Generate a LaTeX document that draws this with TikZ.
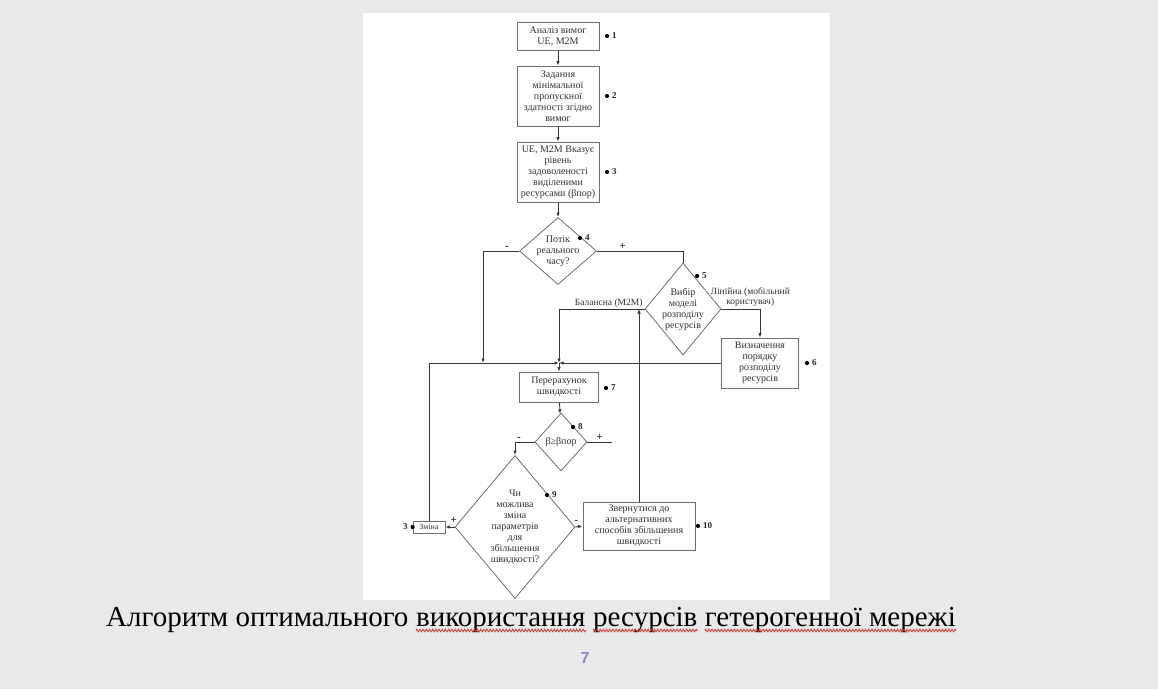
\documentclass[tikz,border=0pt]{standalone}
\usepackage{fontspec}
\setmainfont{Liberation Serif}
\newfontfamily\pagefont{Liberation Sans}
\usetikzlibrary{arrows.meta,positioning,shapes.geometric,decorations.pathmorphing}
\definecolor{AlgLine}{RGB}{55,55,55}
\definecolor{AlgFrame}{RGB}{110,110,110}
\definecolor{AlgText}{RGB}{50,50,50}
\definecolor{AlgPage}{RGB}{233,233,235}
\definecolor{AlgPageNum}{RGB}{138,138,198}
\definecolor{AlgWave}{RGB}{210,55,45}
\tikzset{
  alg/box/.style={
    draw=AlgFrame,
    thick,
    fill=white,
    align=center,
    text=AlgText,
    inner sep=1pt,
    font=\fontsize{10}{11}\selectfont
  },
  alg/dec/.style={
    diamond,
    draw=AlgFrame,
    thick,
    fill=white,
    align=center,
    text=AlgText,
    inner sep=-2pt,
    font=\fontsize{10}{11}\selectfont
  },
  alg/arrow/.style={-{Latex[length=4.5pt,width=3.5pt]}, line width=0.9pt, draw=AlgLine},
  alg/line/.style={line width=0.9pt, draw=AlgLine},
  alg/dot/.style={circle, fill=black, inner sep=0pt, minimum size=4.2pt},
  alg/num/.style={font=\fontsize{9}{9}\selectfont\bfseries, text=black!85, inner sep=0.5pt},
  alg/sign/.style={font=\fontsize{11}{11}\selectfont\bfseries, text=black!85, inner sep=1pt},
  alg/tag/.style={font=\fontsize{9.5}{10.5}\selectfont, text=AlgText, inner sep=1pt, align=center},
  alg/caption/.style={font=\fontsize{29}{32}\selectfont, text=black, inner sep=0pt, anchor=base west},
  alg/wave/.style={draw=AlgWave, line width=0.8pt, decorate, decoration={zigzag, segment length=3.2pt, amplitude=1.3pt}}
}

\begin{document}
\begin{tikzpicture}[x=1pt,y=-1pt]
  \useasboundingbox[fill=AlgPage] (0,0) rectangle (1158,689);
  \fill[white] (363,13) rectangle (830,600);

  % process boxes
  \node[alg/box, minimum width=82, minimum height=28] (b1) at (558,36) {Аналіз вимог\\UE, M2M};
  \node[alg/box, minimum width=82, minimum height=60] (b2) at (558,96) {Задання\\мінімальної\\пропускної\\здатності згідно\\вимог};
  \node[alg/box, minimum width=82, minimum height=60] (b3) at (558,172) {UE, M2M Вказує\\рівень\\задоволеності\\виділеними\\ресурсами (βпор)};
  \node[alg/box, minimum width=77, minimum height=50] (b6) at (760,363) {Визначення\\порядку\\розподілу\\ресурсів};
  \node[alg/box, minimum width=79, minimum height=30] (b7) at (559,387) {Перерахунок\\швидкості};
  \node[alg/box, minimum width=112, minimum height=48] (b10) at (639,526) {Звернутися до\\альтернативних\\способів збільшення\\швидкості};
  \node[alg/box, minimum width=32, minimum height=12, inner sep=0.5pt, font=\fontsize{8}{8}\selectfont] (zm) at (429,527) {Зміна};

  % decisions
  \node[alg/dec, aspect=1.15, minimum width=77, minimum height=67] (d4) at (558,251) {Потік\\реального\\часу?};
  \node[alg/dec, aspect=0.83, minimum width=76, minimum height=92] (d5) at (683,309) {Вибір\\моделі\\розподілу\\ресурсів};
  \node[alg/dec, aspect=0.9, minimum width=52, minimum height=58] (d8) at (561,442) {β≥βпор};
  \node[alg/dec, aspect=0.84, minimum width=120, minimum height=143] (d9) at (515,527) {Чи\\можлива\\зміна\\параметрів\\для\\збільшення\\швидкості?};

  \coordinate (jl) at (483,363);
  \coordinate (jm) at (559,363);
  \coordinate (p8) at (612,442);

  % connectors
  \draw[alg/arrow] (b1) -- (b2);
  \draw[alg/arrow] (b2) -- (b3);
  \draw[alg/arrow] (b3) -- (d4);
  \draw[alg/arrow] (d4.west) -| node[alg/sign, above, pos=0.17] {-} (jl);
  \draw[alg/line] (d4.east) -| node[alg/sign, above, pos=0.15] {+} (d5.north);
  \draw[alg/arrow] (d5.west) -| node[alg/tag, above, pos=0.21] {Балансна (M2M)} (jm);
  \draw[alg/arrow] (d5.east) -| (b6.north);
  \node[alg/tag, anchor=south west] (lin) at ([xshift=-12pt,yshift=1pt]d5.east) {Лінійна (мобільний\\користувач)};
  \draw[alg/arrow] (b6.west) -- (jm);
  \draw[alg/arrow] (zm.north) |- (jm);
  \draw[alg/arrow] (jm) -- (b7.north);
  \draw[alg/arrow] (b7) -- (d8);
  \draw[alg/arrow] (d8.west) -| node[alg/sign, above, pos=0.4] {-} (d9.north);
  \draw[alg/line] (d8.east) -- node[alg/sign, above] {+} (p8);
  \draw[alg/arrow] (d9.west) -- node[alg/sign, above=2pt, pos=0.1] {+} (zm.east);
  \draw[alg/arrow] (d9.east) -- node[alg/sign, above=2pt, pos=0.1] {-} (b10.west);
  \draw[alg/arrow] (b10.north) -- (b10.north |- d5.west);

  % step markers
  \foreach \n/\px/\py in {1/607/36,2/607/96,3/607/172,4/580/238,5/697/276,6/807/363,7/606/388,8/573/427,9/547/495,10/698/526}{
    \node[alg/dot] (dot\n) at (\px,\py) {};
    \node[alg/num, right=2pt of dot\n] (num\n) {\n};
  }
  \node[alg/dot] (dotz) at (zm.west) {};
  \node[alg/num, left=2pt of dotz] (numz) {3};

  % caption
  \node[alg/caption] (c1) at (106,626) {Алгоритм оптимального};
  \node[alg/caption] (c2) at ([xshift=7.2pt]c1.base east) {використання};
  \node[alg/caption] (c3) at ([xshift=7.2pt]c2.base east) {ресурсів};
  \node[alg/caption] (c4) at ([xshift=7.2pt]c3.base east) {гетерогенної мережі};
  \foreach \c in {c2,c3,c4}{
    \draw[alg/wave] ([yshift=-4.5pt]\c.base west) -- ([yshift=-4.5pt]\c.base east);
  }
  \node[font=\pagefont\bfseries\fontsize{16}{16}\selectfont, text=AlgPageNum] (pg) at (585,658) {7};
\end{tikzpicture}
\end{document}
